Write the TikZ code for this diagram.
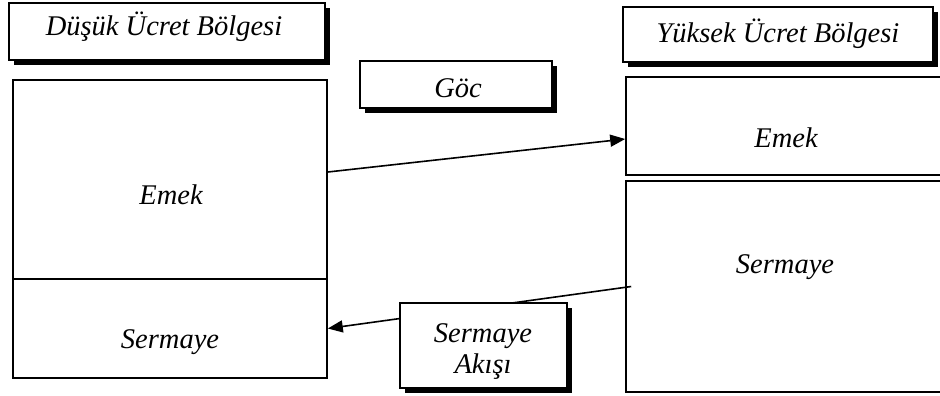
\documentclass[tikz,border=0pt]{standalone}
\usepackage{fontspec}
\setmainfont{Liberation Serif}
\usetikzlibrary{arrows.meta,shadows}
\begin{document}
\begin{tikzpicture}[x=1pt,y=-1pt,
  box/.style={draw, line width=1.6pt, fill=white, rectangle, inner sep=0pt},
  shbox/.style={box, drop shadow={shadow xshift=5pt, shadow yshift=-5pt, fill=black, opacity=1}},
  lbl/.style={font=\fontsize{28.5}{31}\selectfont\itshape, anchor=base, inner sep=0pt},
  arr/.style={line width=1.6pt, -{Triangle[length=15pt,width=12pt]}}]
\useasboundingbox (0,0) rectangle (940,396);
\fill[white] (0,0) rectangle (940,396);

% headers
\node[shbox, minimum width=316pt, minimum height=57pt] (hl) at (167,31.5) {};
\node[lbl] (hlt) at (164,36) {Düşük Ücret Bölgesi};
\node[shbox, minimum width=310pt, minimum height=55pt] (hr) at (778,34.5) {};
\node[lbl] (hrt) at (778,43) {Yüksek Ücret Bölgesi};
\node[shbox, minimum width=192pt, minimum height=47pt] (goc) at (456,84.5) {};
\node[lbl] (goct) at (458,97) {Göc};

% left region
\node[box, minimum width=314pt, minimum height=199pt] (lE) at (170,179.5) {};
\node[box, minimum width=314pt, minimum height=99pt] (lS) at (170,328.5) {};
\node[lbl] (lEt) at (171,204) {Emek};
\node[lbl] (lSt) at (170,348) {Sermaye};

% right region
\node[box, minimum width=320pt, minimum height=98pt] (rE) at (786,126) {};
\node[box, minimum width=320pt, minimum height=211pt] (rS) at (786,286.5) {};
\node[lbl] (rEt) at (786,147) {Emek};
\node[lbl] (rSt) at (785,273) {Sermaye};

% connectors
\draw[arr] ([yshift=7.5pt]lE.east) -- ([yshift=-13pt]rE.west);
\draw[arr] ([xshift=6pt]rS.west) -- (lS.east);

% capital flow box
\node[shbox, minimum width=167pt, minimum height=85pt] (ak) at (483.5,345.5) {};
\node[lbl] (akt1) at (483,342) {Sermaye};
\node[lbl] (akt2) at (483,373) {Akışı};
\end{tikzpicture}
\end{document}
